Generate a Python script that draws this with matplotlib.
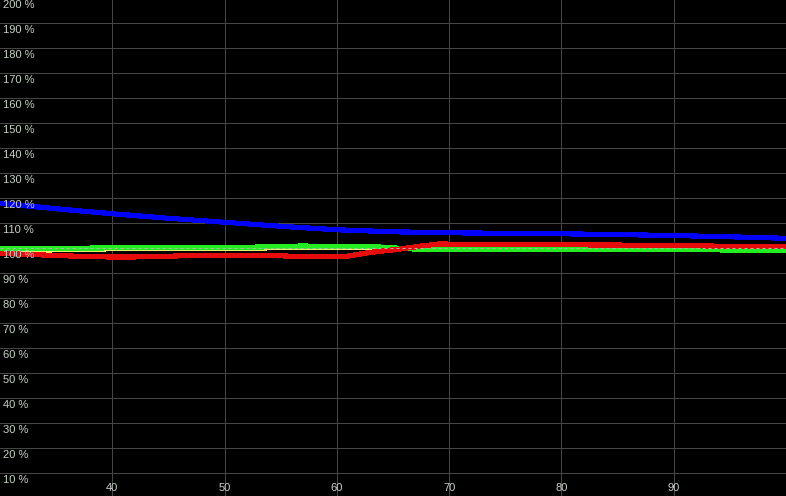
import matplotlib
matplotlib.use("Agg")
import matplotlib.pyplot as plt

# curve data (x, percent)
blue_x = [30, 35, 40, 45, 50, 55, 60, 65, 70, 75, 80, 85, 90, 95, 100]
blue_y = [118.0, 115.8, 113.8, 112.0, 110.4, 108.8, 107.4, 106.6, 106.2, 106.0, 105.8, 105.5, 105.1, 104.6, 104.0]

red_x = [30, 34, 37, 40, 44, 46, 50, 55, 57, 60, 61, 63, 65.6, 67.5, 69, 75, 80, 85, 90, 95, 100]
red_y = [98.0, 97.3, 96.8, 96.5, 96.6, 97.0, 97.1, 97.0, 96.6, 96.6, 96.9, 98.4, 99.7, 100.9, 101.7, 101.6, 101.4, 101.3, 101.1, 100.8, 100.7]

green_x = [30, 35, 40, 47.8, 53, 56.7, 61.9, 63.8, 65.6, 68.3, 80, 90, 94, 95, 100]
green_y = [99.7, 99.9, 100.2, 100.2, 100.5, 100.9, 100.8, 100.5, 100.0, 99.4, 99.5, 99.5, 99.4, 99.1, 99.0]

yellow_x = [30, 34, 40, 50, 56, 62, 64, 66, 68, 70, 80, 90, 94, 95, 100]
yellow_y = [98.6, 99.3, 99.8, 99.9, 100.3, 100.3, 100.0, 99.8, 99.7, 99.4, 99.4, 99.4, 99.5, 99.9, 99.9]

x_ticks = [40, 50, 60, 70, 80, 90]
y_ticks = list(range(10, 201, 10))

fig = plt.figure(figsize=(7.86, 4.96), dpi=100, facecolor="black")
ax = fig.add_axes([0, 0, 1, 1], facecolor="black")

ax.set_xlim(30, 100)
ax.set_ylim(0.92, 199.32)

for v in x_ticks:
    ax.axvline(v, color="#464646", lw=0.72, zorder=1)
for v in y_ticks:
    ax.axhline(v, color="#464646", lw=0.72, zorder=1)

lw = 3.0
ax.plot(yellow_x, yellow_y, color="#ecec6c", lw=lw, antialiased=False, zorder=3)
ax.plot(green_x, green_y, color="#22ee22", lw=lw, antialiased=False, zorder=4)
ax.plot(red_x, red_y, color="#e60c0c", lw=lw, antialiased=False, zorder=5)
ax.plot(blue_x, blue_y, color="#0000ff", lw=lw, antialiased=False, zorder=6)

ax.axhline(100, color="#b4b4b4", lw=0.72, dashes=(3, 3), zorder=7)

txt_color = "#c8d2c8"
font = ["Liberation Sans", "DejaVu Sans"]
for v in y_ticks:
    ax.annotate(f"{v} %", xy=(0, v), xycoords=("axes fraction", "data"),
                xytext=(3, -2), textcoords="offset pixels",
                ha="left", va="top", color=txt_color, fontsize=8,
                family=font, zorder=8)
for v in x_ticks:
    ax.annotate(str(v), xy=(v, 0), xycoords=("data", "axes fraction"),
                xytext=(0, 3), textcoords="offset pixels",
                ha="center", va="bottom", color=txt_color, fontsize=8,
                family=font, zorder=8)

ax.set_xticks([])
ax.set_yticks([])
for s in ax.spines.values():
    s.set_visible(False)

fig.savefig("out.png", dpi=100, facecolor="black")
